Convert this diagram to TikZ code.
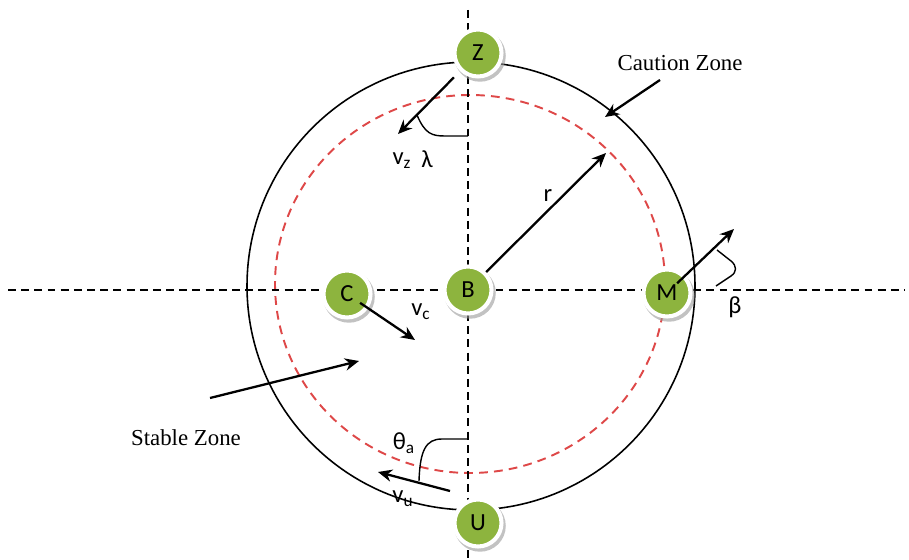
\documentclass[tikz,border=0pt]{standalone}
\usepackage{fontspec}
\setmainfont{Liberation Serif}
\setsansfont{Carlito}
\usetikzlibrary{arrows.meta,shadows}
\definecolor{ballgreen}{RGB}{141,180,62}
\definecolor{zonered}{RGB}{222,72,72}
\tikzset{
  ball/.style={circle, fill=ballgreen, draw=white, line width=2.3pt, minimum size=0.94cm,
    inner sep=0pt, font=\sffamily\fontsize{14}{16}\selectfont,
    drop shadow={shadow xshift=1pt, shadow yshift=-1.5pt, shadow scale=1.1, fill=black!40, opacity=0.6}},
  axisline/.style={dash pattern=on 4.5pt off 3pt, line width=1.2pt},
  vec/.style={line width=1.3pt, -{Stealth[length=8pt,width=7pt]}},
  lbl/.style={font=\sffamily\fontsize{14}{16}\selectfont},
  zone/.style={font=\fontsize{13}{15}\selectfont},
  anglemark/.style={line width=0.8pt}
}
\begin{document}
\begin{tikzpicture}[x=0.02cm,y=-0.02cm]
\useasboundingbox (0,0) rectangle (909,560);
% zones
\draw[line width=0.9pt] (471,286) circle (224);
\draw[zonered, line width=1.1pt, dash pattern=on 5pt off 3.5pt] (470,284) ellipse (195 and 189);
% axes
\draw[axisline] (468,10) -- (468,560);
\draw[axisline] (8,290) -- (905,290);
% agents
\foreach \n/\x/\y in {Z/478/53, B/468/290, C/347/294, M/667/293, U/478/523}
  \node[ball] (\n) at (\x,\y) {\n};
% velocities
\coordinate (vzEnd) at (398,134);
\coordinate (rEnd) at (606,153);
\coordinate (vcEnd) at (415,340);
\coordinate (vmEnd) at (734,229);
\coordinate (vuStart) at (450,491);
\coordinate (vuEnd) at (378,472);
\draw[vec, shorten <=5pt] (Z) -- (vzEnd);
\draw[vec] (B) -- (rEnd);
\draw[vec, shorten <=9pt] (C.center) -- (vcEnd);
\draw[vec, shorten <=8pt] (M.center) -- (vmEnd);
\draw[vec] (vuStart) -- (vuEnd);
% angles
\draw[anglemark] (417,115) .. controls (425,134) and (432,136) .. (445,136) -- (468,136);
\draw[anglemark] (717,250) -- (731,261) .. controls (737,266) and (737,272) .. (731,276) -- (716,286);
\draw[anglemark] (419,481) .. controls (420,450) and (426,439) .. (442,439) -- (468,439);
% labels
\node[lbl] (vz) at (402,161) {v\textsubscript{z}};
\node[lbl] (lambda) at (427,159) {λ};
\node[lbl] (rlbl) at (548,196) {r};
\node[lbl] (vc) at (421,312) {v\textsubscript{c}};
\node[lbl] (beta) at (735,307) {β};
\node[lbl] (theta) at (404,443) {θ\textsubscript{a}};
\node[lbl] (vu) at (403,499) {v\textsubscript{u}};
% zone names
\node[zone] (caution) at (680,63) {Caution Zone};
\node[zone] (stable) at (186,438) {Stable Zone};
\coordinate (cautionFrom) at (660,80);
\coordinate (cautionTo) at (605,117);
\coordinate (stableFrom) at (210,398);
\coordinate (stableTo) at (359,361);
\draw[vec] (cautionFrom) -- (cautionTo);
\draw[vec] (stableFrom) -- (stableTo);
\end{tikzpicture}
\end{document}
